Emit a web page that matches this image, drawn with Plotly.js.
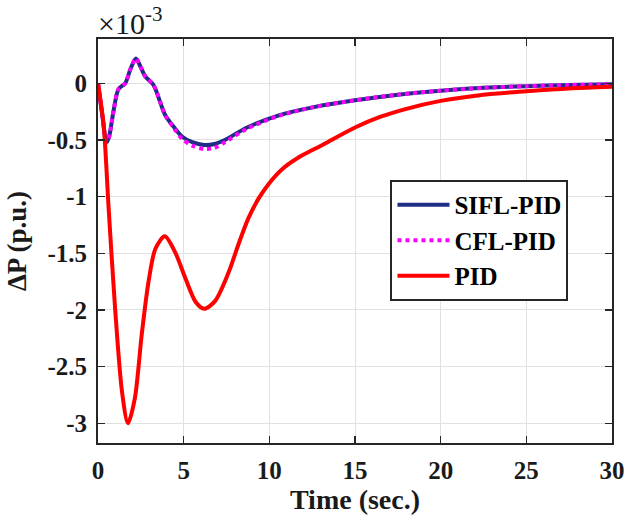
<!DOCTYPE html>
<html>
<head>
<meta charset="utf-8">
<script src="https://cdn.plot.ly/plotly-3.0.1.min.js"></script>
<style>html,body{margin:0;padding:0;background:#fff;}#chart{width:637px;height:517px;}</style>
</head>
<body>
<div id="chart"></div>
<script>
// values of ΔP in units of 1e-3 p.u.
var tSIFL = [0, 0.25, 0.5, 0.65, 0.91, 1.2, 1.59, 1.88, 2.21, 2.5, 2.76, 3.24, 3.92, 4.5, 4.9, 5.5, 6.2, 6.8, 7.4, 8.7, 10.6, 12.6, 15, 17.5, 20, 22.5, 25, 27.5, 30];
var pSIFL = [0, -0.28, -0.52, -0.47, -0.24, -0.05, 0, 0.12, 0.22, 0.14, 0.06, -0.015, -0.28, -0.4, -0.47, -0.52, -0.545, -0.535, -0.5, -0.39, -0.28, -0.21, -0.15, -0.1, -0.065, -0.04, -0.025, -0.015, -0.008];
var tCFL = [0, 0.25, 0.5, 0.65, 0.91, 1.2, 1.59, 1.88, 2.21, 2.5, 2.76, 3.24, 3.92, 4.5, 4.9, 5.5, 6.2, 6.8, 7.4, 8.7, 10.6, 12.6, 15, 17.5, 20, 22.5, 25, 27.5, 30];
var pCFL = [0, -0.28, -0.52, -0.47, -0.24, -0.05, 0, 0.12, 0.22, 0.14, 0.06, -0.015, -0.28, -0.41, -0.49, -0.55, -0.58, -0.57, -0.52, -0.4, -0.285, -0.21, -0.15, -0.1, -0.065, -0.04, -0.025, -0.015, -0.008];
var tPID = [0, 0.33, 0.62, 1.0, 1.4, 1.75, 2.15, 2.55, 2.95, 3.35, 3.9, 4.5, 5.1, 5.7, 6.2, 6.84, 7.62, 8.2, 8.78, 9.36, 9.95, 10.73, 11.7, 13.15, 15, 16.5, 18, 20, 22.5, 25, 27.5, 30];
var pPID = [0, -0.37, -1.1, -1.99, -2.72, -3.0, -2.78, -2.22, -1.75, -1.46, -1.35, -1.49, -1.72, -1.93, -1.99, -1.92, -1.67, -1.42, -1.19, -1.02, -0.89, -0.76, -0.655, -0.54, -0.39, -0.295, -0.225, -0.155, -0.1, -0.07, -0.045, -0.03];

var seriesNames = ['SIFL-PID', 'CFL-PID', 'PID'];
var xTicks = [0, 5, 10, 15, 20, 25, 30];
var xTickText = ['0', '5', '10', '15', '20', '25', '30'];
var yTicks = [-3, -2.5, -2, -1.5, -1, -0.5, 0];
var yTickText = ['-3', '-2.5', '-2', '-1.5', '-1', '-0.5', '0'];

var font = 'Liberation Serif';
function bold(s) { return '<b>' + s + '</b>'; }

var traces = [
  {x: tSIFL, y: pSIFL, name: bold(seriesNames[0]), mode: 'lines',
   line: {color: '#1f2d85', width: 4, shape: 'spline', smoothing: 0.8}},
  {x: tCFL, y: pCFL, name: bold(seriesNames[1]), mode: 'lines',
   line: {color: '#ff00ff', width: 4, dash: 'dot', shape: 'spline', smoothing: 0.8}},
  {x: tPID, y: pPID, name: bold(seriesNames[2]), mode: 'lines',
   line: {color: '#ff0000', width: 4, shape: 'spline', smoothing: 0.8}}
];

function axisBase() {
  return {
    showline: true, linecolor: '#262626', linewidth: 2, mirror: 'ticks',
    ticks: 'inside', ticklen: 7, tickwidth: 1.5, tickcolor: '#262626',
    showgrid: true, gridcolor: '#e1e1e1', gridwidth: 1, zeroline: false,
    tickfont: {family: font, size: 25, color: '#1a1a1a'}
  };
}

var xaxis = axisBase();
xaxis.range = [0, 30];
xaxis.tickvals = xTicks;
xaxis.ticktext = xTickText.map(bold);
xaxis.ticklabelstandoff = 4;
xaxis.title = {text: bold('Time (sec.)'), font: {family: font, size: 28, color: '#1a1a1a'}, standoff: 4};

var yaxis = axisBase();
yaxis.range = [-3.174, 0.391];
yaxis.tickvals = yTicks;
yaxis.ticktext = yTickText.map(bold);
yaxis.ticklabelstandoff = 4;
yaxis.title = {text: bold('ΔP (p.u.)'), font: {family: font, size: 27, color: '#1a1a1a'}, standoff: 13};

var layout = {
  width: 637, height: 517,
  margin: {l: 98, r: 25, t: 39, b: 74},
  paper_bgcolor: '#ffffff', plot_bgcolor: '#ffffff',
  showlegend: true,
  legend: {
    x: 0.569, y: 0.651, xanchor: 'left', yanchor: 'top',
    bgcolor: '#ffffff', bordercolor: '#262626', borderwidth: 2,
    font: {family: font, size: 25, color: '#000000'},
    itemwidth: 52
  },
  xaxis: xaxis,
  yaxis: yaxis,
  annotations: [{
    xref: 'paper', yref: 'paper', x: 0, y: 1, xanchor: 'left', yanchor: 'bottom',
    xshift: -2, yshift: -3, showarrow: false,
    text: '×10<sup>-3</sup>',
    font: {family: font, size: 30, color: '#1a1a1a'}
  }]
};

Plotly.newPlot('chart', traces, layout, {displayModeBar: false, staticPlot: true});
</script>
</body>
</html>
